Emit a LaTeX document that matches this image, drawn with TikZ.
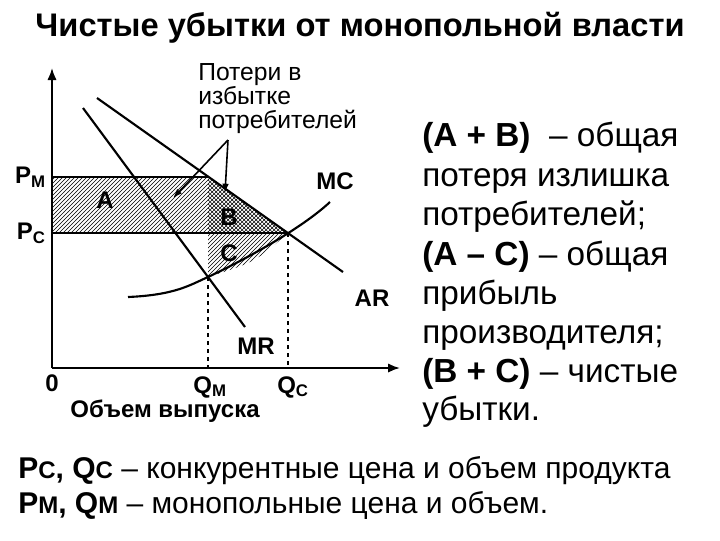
\documentclass[tikz,border=0pt]{standalone}
\usepackage{fontspec}
\setmainfont{Liberation Sans}
\usetikzlibrary{patterns,arrows.meta}
\begin{document}
\begin{tikzpicture}[x=0.75pt,y=-0.75pt,
  crv/.style={line width=1.6pt},
  lbl/.style={font=\bfseries\fontsize{18}{19}\selectfont,inner sep=0pt},
  txt/.style={font=\fontsize{25}{28}\selectfont,anchor=base west,inner sep=0pt},
  dsh/.style={dashed,line width=1.3pt}]
\useasboundingbox (0,0) rectangle (720,540);
\node[font=\bfseries\fontsize{24.5}{26}\selectfont] (title) at (360,28) {Чистые убытки от монопольной власти};
% coordinates
\coordinate (O) at (52,368);
\coordinate (M) at (208,177);
\coordinate (CC) at (288,233);
\coordinate (E) at (208,277);
% regions
\fill[pattern=north east lines] (52,177) rectangle (208,233);
\fill[pattern=crosshatch] (M) -- (CC) -- (208,233) -- cycle;
\fill[pattern=north east lines] (208,233) -- (CC) .. controls (255,262) .. (E) -- cycle;
\draw[line width=1pt] (52,177) -- (M) (52,233) -- (CC);
% axes
\draw[line width=1.4pt,-{Latex[length=9pt,width=7pt]}] (O) -- (52,68);
\draw[line width=1.4pt,-{Latex[length=9pt,width=7pt]}] (O) -- (400,368);
% curves
\draw[crv] (97,98) -- (343,272);
\draw[crv] (83,108) -- (245,327);
\draw[crv] (128,297) .. controls (175,295) and (190,285) .. (E) .. controls (240,262) and (300,230) .. (330,202);
\draw[dsh] (E) -- (208,368);
\draw[dsh] (CC) -- (288,368);
% labels
\node[lbl,anchor=east] (pm) at (46,177) {P\textsubscript{М}};
\node[lbl,anchor=east] (pc) at (46,233) {P\textsubscript{С}};
\node[lbl] (zero) at (52,383) {0};
\node[lbl] (qm) at (210,387) {Q\textsubscript{М}};
\node[lbl] (qc) at (293,387) {Q\textsubscript{С}};
\node[lbl] (vol) at (165,411) {Объем выпуска};
\node[lbl] (mc) at (335,181) {MC};
\node[lbl] (ar) at (372,298) {AR};
\node[lbl] (mr) at (256,346) {MR};
\node[lbl] (a) at (105,200) {A};
\node[lbl] (b) at (229,217) {B};
\node[lbl] (c) at (229,253) {C};
\node[lbl,align=left,anchor=north west,font=\fontsize{18.5}{18}\selectfont] (loss) at (198,63) {Потери в\\избытке\\потребителей};
\coordinate (apex) at (228,140);
\draw[line width=1.2pt,-{Latex[length=7pt,width=5pt]}] (apex) -- (173,198);
\draw[line width=1.2pt,-{Latex[length=7pt,width=5pt]}] (apex) -- (225,193);
% right text
\node[txt] (t1) at (422,146) {\textbf{(А + В)}\ \ – общая};
\node[txt] (t2) at (422,186) {потеря излишка};
\node[txt] (t3) at (422,225) {потребителей;};
\node[txt] (t4) at (422,265) {\textbf{(А – С)} – общая};
\node[txt] (t5) at (422,304) {прибыль};
\node[txt] (t6) at (422,343) {производителя;};
\node[txt] (t7) at (422,382) {\textbf{(В + С)} – чистые};
\node[txt] (t8) at (422,420) {убытки.};
\node[txt,font=\fontsize{22.5}{26}\selectfont] (b1) at (18,478) {\textbf{Р{\fontsize{18}{18}\selectfont С}, Q{\fontsize{18}{18}\selectfont С}} – конкурентные цена и объем продукта};
\node[txt,font=\fontsize{22.5}{26}\selectfont] (b2) at (18,513) {\textbf{Р{\fontsize{18}{18}\selectfont М}, Q{\fontsize{18}{18}\selectfont М}} – монопольные цена и объем.};
\end{tikzpicture}
\end{document}
